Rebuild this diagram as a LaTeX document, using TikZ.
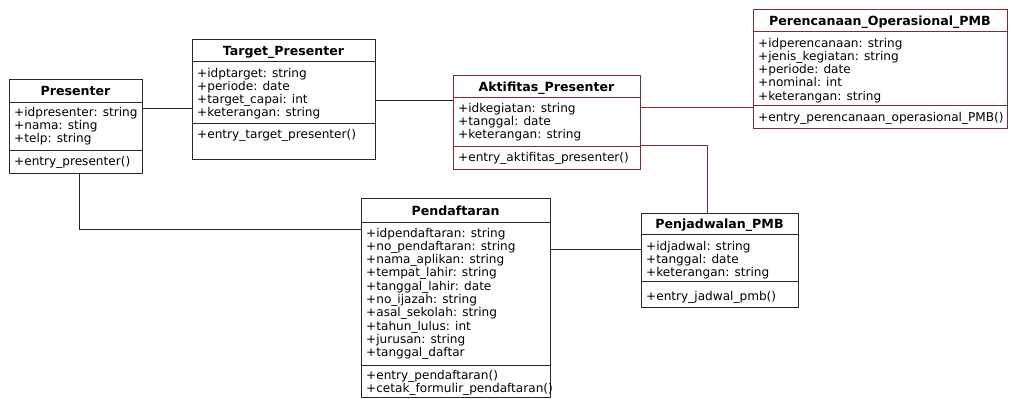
\documentclass[tikz,border=0pt]{standalone}
\usepackage{fontspec}
\setmainfont{DejaVu Sans}
\definecolor{umlred}{RGB}{128,44,44}
\definecolor{umlgray}{RGB}{40,40,40}
\newcommand\rowfont{\fontsize{12.1}{13.3}\selectfont}
\newcommand\titlefont{\fontsize{12.6}{13.3}\selectfont\bfseries}
% place a list of member rows, one per 13.3pt, starting at a baseline
\newcommand\memberrows[3]{%
  \foreach \t [count=\i from 0] in {#3}
    \node[member] at (#1, #2+13.3*\i) {\t};}
\tikzset{
  frame/.style={draw=umlgray, line width=0.8pt, fill=white, anchor=north west, inner sep=0pt, outer sep=0pt},
  redframe/.style={frame, draw=umlred},
  member/.style={anchor=base west, inner sep=0pt, font=\rowfont, text=black},
  classtitle/.style={anchor=base, inner sep=0pt, font=\titlefont, text=black},
  link/.style={draw=umlgray, line width=0.8pt},
  redlink/.style={link, draw=umlred},
}
\begin{document}
\begin{tikzpicture}[x=1pt, y=-1pt]
\useasboundingbox (0,0) rectangle (1010,399);

% ---------- class frames ----------
% Presenter
\node[frame, minimum width=133pt, minimum height=94pt] (pres) at (9,79) {};
% Target_Presenter
\node[frame, minimum width=183pt, minimum height=120pt] (tgt) at (192,39) {};
% Aktifitas_Presenter
\node[redframe, minimum width=187pt, minimum height=94pt] (akt) at (453,75) {};
% Perencanaan_Operasional_PMB
\node[redframe, minimum width=254pt, minimum height=119pt] (ren) at (753,9) {};
% Pendaftaran
\node[frame, minimum width=189pt, minimum height=199pt] (pend) at (361,198) {};
% Penjadwalan_PMB
\node[frame, minimum width=157pt, minimum height=94pt] (jad) at (641,213) {};

% ---------- associations ----------
\draw[link] (pres.east |- 0,108) -- (tgt.west |- 0,108);
\draw[link] (tgt.east |- 0,100) -- (akt.west |- 0,100);
\draw[redlink] (akt.east |- 0,107) -- (ren.west |- 0,107);
\draw[redlink] (akt.east |- 0,145) -| (707,0 |- jad.north);
\draw[link] (79,0 |- pres.south) |- (pend.west |- 0,229);
\draw[link] (pend.east |- 0,249) -- (jad.west |- 0,249);

% ---------- compartments ----------
\draw[link] ([yshift=-23pt]pres.north west) -- ([yshift=-23pt]pres.north east);
\draw[link] ([yshift=-71pt]pres.north west) -- ([yshift=-71pt]pres.north east);
\draw[link] ([yshift=-22pt]tgt.north west) -- ([yshift=-22pt]tgt.north east);
\draw[link] ([yshift=-84pt]tgt.north west) -- ([yshift=-84pt]tgt.north east);
\draw[redlink] ([yshift=-22pt]akt.north west) -- ([yshift=-22pt]akt.north east);
\draw[redlink] ([yshift=-71pt]akt.north west) -- ([yshift=-71pt]akt.north east);
\draw[redlink] ([yshift=-22pt]ren.north west) -- ([yshift=-22pt]ren.north east);
\draw[redlink] ([yshift=-96pt]ren.north west) -- ([yshift=-96pt]ren.north east);
\draw[link] ([yshift=-24pt]pend.north west) -- ([yshift=-24pt]pend.north east);
\draw[link] ([yshift=-167pt]pend.north west) -- ([yshift=-167pt]pend.north east);
\draw[link] ([yshift=-21pt]jad.north west) -- ([yshift=-21pt]jad.north east);
\draw[link] ([yshift=-68pt]jad.north west) -- ([yshift=-68pt]jad.north east);

% ---------- titles ----------
\node[classtitle] (presT) at (75.5,95) {Presenter};
\node[classtitle] (tgtT) at (283.5,55) {Target\_Presenter};
\node[classtitle] (aktT) at (546.5,91) {Aktifitas\_Presenter};
\node[classtitle] (renT) at (880,25) {Perencanaan\_Operasional\_PMB};
\node[classtitle] (pendT) at (455.5,215) {Pendaftaran};
\node[classtitle] (jadT) at (719.5,228) {Penjadwalan\_PMB};

% ---------- members ----------
\memberrows{14}{116}{+idpresenter: string, +nama: sting, +telp: string}
\memberrows{14}{165}{+entry\_presenter()}

\memberrows{197}{77}{+idptarget: string, +periode: date, +target\_capai: int, +keterangan: string}
\memberrows{197}{138}{+entry\_target\_presenter()}

\memberrows{458}{112}{+idkegiatan: string, +tanggal: date, +keterangan: string}
\memberrows{458}{161}{+entry\_aktifitas\_presenter()}

\memberrows{758}{47}{+idperencanaan: string, +jenis\_kegiatan: string, +periode: date, +nominal: int, +keterangan: string}
\memberrows{758}{121}{+entry\_perencanaan\_operasional\_PMB()}

\memberrows{366}{237}{+idpendaftaran: string, +no\_pendaftaran: string, +nama\_aplikan: string, +tempat\_lahir: string, +tanggal\_lahir: date, +no\_ijazah: string, +asal\_sekolah: string, +tahun\_lulus: int, +jurusan: string, +tanggal\_daftar}
\memberrows{366}{379}{+entry\_pendaftaran(), +cetak\_formulir\_pendaftaran()}

\memberrows{646}{250}{+idjadwal: string, +tanggal: date, +keterangan: string}
\memberrows{646}{300}{+entry\_jadwal\_pmb()}
\end{tikzpicture}
\end{document}
